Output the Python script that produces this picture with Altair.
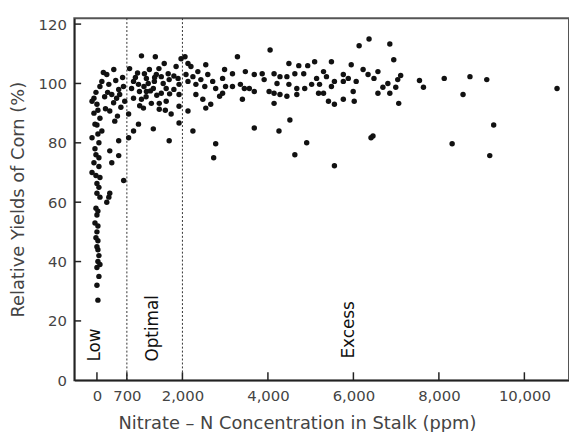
import altair as alt
import pandas as pd

# ---- data (ppm, % relative yield) ----
nitrate_ppm = [
    # low zone column and near the 700 line
    0, 278, 230, -23, 0, -46, 0, 23, 23, 23, 70, 46, 0, 23,
    394, 230, 115, 70, 278, 509, 347, 532, -115, 0, 300, -70, 70, 417, -46, 115,
    -115, 509, -46, 300, 46, -70, -115, 70, 0, 300, 70,
    23, -23, 46, -23, 46, 23, -23, 46, 0, 0, 23, 46, 0, 23, -70, -23,
    150, 440, 600, 250, 460, 620, 180, 390, 560, 200, 650, 480,
    625, 509, 347,
    # optimal zone
    1042, 1366, 1574, 1852, 1968, 764, 1111, 1227, 1389, 1157, 856, 972, 1343, 1505,
    1667, 1690, 1898, 810, 995, 1157, 1319, 1505, 1620, 1921, 856, 1042, 1273, 1458,
    1620, 1921, 1088, 1458, 1921, 1736, 741, 972, 856, 1319, 1921, 1690, 741,
    900, 1200, 1250, 1400, 1550, 1800, 1100, 950, 1700, 1000, 1350, 1450, 1800, 1600, 1150,
    # excess zone 2000-4200
    2060, 2130, 2199, 2546, 2361, 2083, 2245, 2593, 2431, 2130, 2315, 2523, 2708, 2778,
    2940, 2986, 3171, 3287, 3472, 3681, 3866, 4051, 4144, 3009, 3171, 3356, 3449, 3565,
    3681, 3912, 4028, 2940, 2870, 2315, 2477, 2662, 2546, 3403, 4144, 2130, 2245, 3681,
    2778, 2731,
    # excess zone 4200-6600
    6366, 6134, 4491, 4722, 4931, 5093, 5486, 5949, 6227, 6574, 4282, 4444, 4630, 4838,
    5139, 5301, 5370, 5556, 5764, 5880, 6065, 6343, 6481, 4213, 4491, 4676, 4861, 5023,
    5208, 5486, 5764, 4144, 4282, 4444, 4676, 5185, 5301, 5995, 6574, 5417, 5556, 5764,
    6019, 4514, 4259, 4907, 4630, 5556, 6458, 6412,
    # beyond 6600
    6852, 6944, 6690, 6806, 6852, 6991, 7037, 7106, 7060, 7546, 7639, 8125, 8565, 8727,
    9120, 9282, 8310, 9190, 10764,
]
yield_pct = [
    63, 61.7, 60, 58, 55.7, 53, 50, 47, 44, 40, 39, 35, 32, 27,
    104.7, 103, 100.7, 99, 99.7, 98, 96.3, 96.3, 94, 93, 90.7, 90, 88.3, 87.3, 86.3, 84,
    81.7, 80.7, 78, 77.3, 75, 73.3, 70, 68.3, 66.3, 63, 61.7,
    83, 76, 72, 69, 65, 52, 48, 42, 38, 45, 57, 80, 86, 91, 95, 97,
    103.7, 101, 102, 97, 95, 99, 95.5, 93.5, 92, 91.5, 94, 89,
    67.3, 75.7, 73.3,
    109.3, 109, 106.7, 105.7, 108.3, 105, 103.3, 104.7, 103, 101.7, 100.7, 99.7, 100.7, 102.3,
    103.3, 101.3, 101.7, 98.3, 97.3, 97.3, 98.3, 96.7, 98.3, 99.7, 95, 94.7, 93.3, 93.3,
    94, 96.3, 91.7, 91.3, 92.3, 89.7, 89.7, 86.3, 84, 84.7, 86.7, 80.7, 81.7,
    102, 100, 97.5, 96, 100, 98, 99, 103.5, 96.5, 92.5, 102, 105, 102.5, 91, 95.5,
    109, 106.7, 105.7, 106.3, 104, 103, 102.3, 103, 101.3, 100.7, 99.7, 99, 100.7, 98.3,
    101.7, 104.7, 103.3, 109, 104, 103, 103.3, 111.3, 103.3, 99, 99, 99.7, 98.3, 98.3,
    97.3, 101.3, 97.3, 96.7, 95.7, 96.3, 94.7, 93, 91.7, 94.7, 93.3, 90.7, 84, 85,
    79.7, 75,
    115, 112.7, 106.7, 106, 106, 107.3, 107.3, 106.3, 104.7, 104, 102.3, 102.3, 103.3, 103.3,
    101.7, 104, 102.3, 100.7, 103, 101.7, 100.7, 103, 101.7, 100, 99.7, 98.3, 98.3, 99.7,
    99.7, 99, 100.7, 96.7, 96.3, 95.7, 96.3, 96.7, 96.7, 97.3, 96.7, 94, 93, 94.7,
    94, 87.7, 84, 80, 76, 72.3, 82.3, 81.7,
    113.3, 108, 98.7, 100, 96.7, 98.7, 101.3, 102.7, 93.3, 101, 98.7, 101.7, 96.3, 102.3,
    101.3, 86, 79.7, 75.7, 98.3,
]

x_tick_values = [0, 700, 2000, 4000, 6000, 8000, 10000]
y_tick_values = [0, 20, 40, 60, 80, 100, 120]
zone_bounds = [700, 2000]
zone_names = ["Low", "Optimal", "Excess"]
zone_label_x = [-35, 1320, 5900]
zone_label_y = [6.3, 6.3, 7.3]

X_DOMAIN = [-530, 11044]
Y_DOMAIN = [0, 122]
W, H = 500, 366
X_TICK_LEN = 160    # ppm, ~7 px inward tick
Y_TICK_LEN = 2.7    # %, ~8 px inward tick

points = pd.DataFrame({"x": nitrate_ppm, "y": yield_pct})
bounds = pd.DataFrame({"x": zone_bounds})
labels = pd.DataFrame({"x": zone_label_x, "y": zone_label_y, "t": zone_names})
xticks = pd.DataFrame({"x": x_tick_values, "y": Y_DOMAIN[0], "y2": Y_DOMAIN[0] + Y_TICK_LEN})
yticks = pd.DataFrame({"y": y_tick_values[1:], "x": X_DOMAIN[0], "x2": X_DOMAIN[0] + X_TICK_LEN})

xs = alt.Scale(domain=X_DOMAIN, nice=False, zero=False)
ys = alt.Scale(domain=Y_DOMAIN, nice=False, zero=False)
x_axis = alt.Axis(values=x_tick_values, format=",.0f", title="Nitrate – N Concentration in Stalk (ppm)",
                  titlePadding=12, titleX=225)
y_axis = alt.Axis(values=y_tick_values, title="Relative Yields of Corn (%)", titlePadding=11)


def X(f):
    return alt.X(f"{f}:Q", scale=xs, axis=x_axis)


def Y(f):
    return alt.Y(f"{f}:Q", scale=ys, axis=y_axis)


dashed = alt.Chart(bounds).mark_rule(color="#333", strokeDash=[2, 2]).encode(x=X("x"))
left_ticks = alt.Chart(yticks).mark_rule(color="#222", strokeWidth=1.5).encode(
    y=Y("y"), x=X("x"), x2="x2:Q")
bottom_ticks = alt.Chart(xticks).mark_rule(color="#222", strokeWidth=1.5).encode(
    x=X("x"), y=Y("y"), y2="y2:Q")
dots = alt.Chart(points).mark_circle(size=30, color="#111", opacity=1).encode(x=X("x"), y=Y("y"))
texts = alt.Chart(labels).mark_text(angle=270, align="left", baseline="middle",
                                    font="DejaVu Sans", fontSize=17, color="#111").encode(
    x=X("x"), y=Y("y"), text="t:N")

chart = alt.layer(dashed, left_ticks, bottom_ticks, dots, texts).properties(
    width=W, height=H,
    autosize=alt.AutoSizeParams(type="none"),
    padding={"left": 67, "top": 8, "right": 0, "bottom": 50},
).configure_view(stroke="#555", strokeWidth=2).configure_axis(
    grid=False, labelFont="DejaVu Sans", labelFontSize=15, labelColor="#444",
    titleFont="DejaVu Sans", titleFontSize=18, titleFontWeight="normal", titleColor="#444",
    domainColor="#222", domainWidth=1.5, tickSize=0, labelPadding=8,
)

chart.save("out.html", embed_options={"renderer": "svg", "actions": False})
